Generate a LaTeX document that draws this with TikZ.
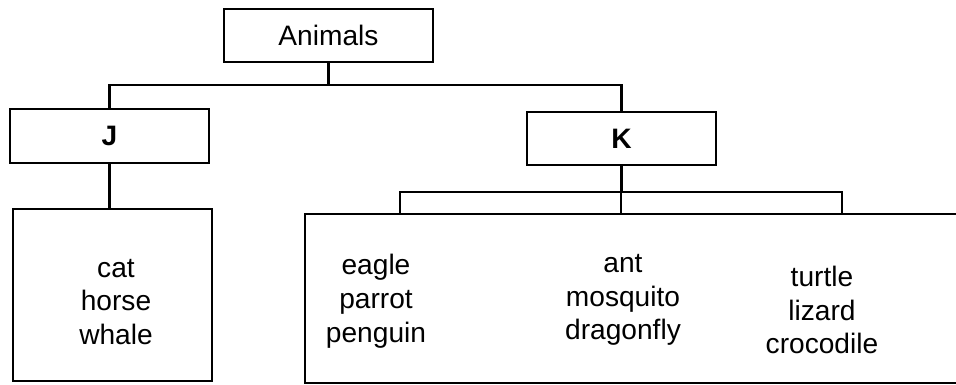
\documentclass[tikz,border=0pt]{standalone}
\usepackage{fontspec}
\setmainfont{Liberation Sans}
\begin{document}
\begin{tikzpicture}[x=0.025cm,y=-0.025cm,line width=1.6pt,
    box/.style={draw,rectangle,inner sep=0pt,outer sep=0pt},
    names/.style={align=center,font=\fontsize{20}{24}\selectfont}]
        \useasboundingbox (0,0) rectangle (956,385);
        \clip (0,0) rectangle (956,385);
        \node[box,names,minimum width=5.23cm,minimum height=1.33cm] (Animals) at (328.5,35.5) {Animals};
        \node[box,names,font=\fontsize{20}{24}\selectfont\bfseries,minimum width=4.98cm,minimum height=1.35cm] (J) at (109.5,136) {J};
        \node[box,names,font=\fontsize{20}{24}\selectfont\bfseries,minimum width=4.73cm,minimum height=1.33cm] (K) at (621.5,138.5) {K};
        \node[box,minimum width=4.98cm,minimum height=4.3cm] (Jbox) at (112.5,295) {};
        \node[names] (mammals) at (116,302) {cat\\horse\\whale};
        \node[box,minimum width=16.875cm,minimum height=4.225cm] (Kbox) at (642.5,298.5) {};
        \node[box,minimum width=11.05cm,minimum height=0.55cm] (bar) at (621,203) {};
        \node[names] (birds) at (376,301) {eagle\\parrot\\penguin};
        \node[names] (insects) at (623,300) {ant\\mosquito\\dragonfly};
        \node[names] (reptiles) at (822,310) {turtle\\lizard\\crocodile};
        \coordinate (fork) at (328.5,85);
        \draw (Animals) -- (fork);
        \draw (J.north) |- (fork) -| (K.north);
        \draw (J.south) -- (J.south |- Jbox.north);
        \draw (K.south) -- (K.south |- bar.north);
        \draw (bar.north) -- (bar.south);
    \end{tikzpicture}
\end{document}
